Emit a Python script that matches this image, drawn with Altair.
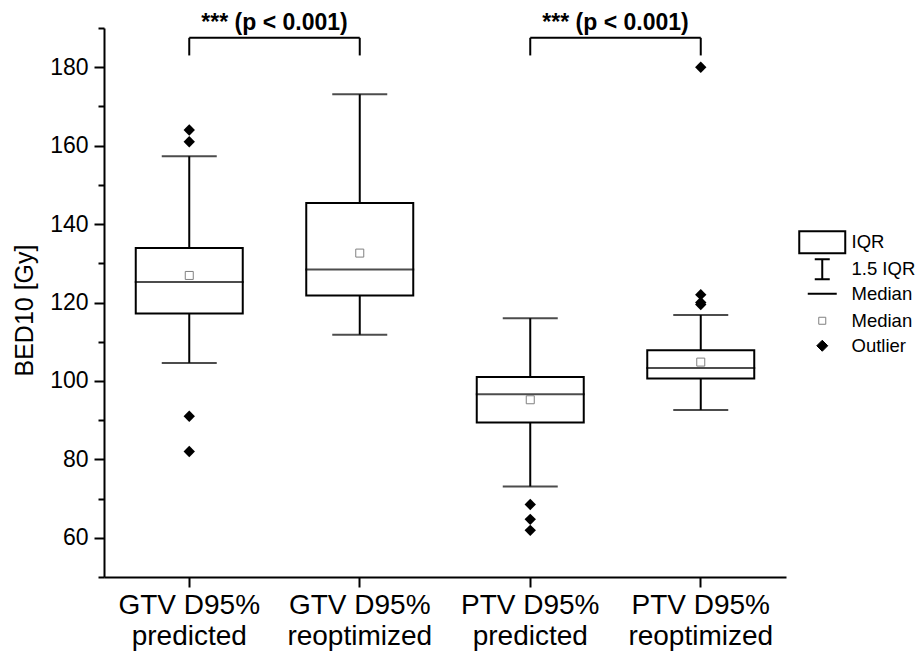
import altair as alt
import pandas as pd

FONT = "Liberation Sans"

categories = ["GTV D95% predicted", "GTV D95% reoptimized",
              "PTV D95% predicted", "PTV D95% reoptimized"]
whisker_low = [104.6, 111.8, 73.1, 92.6]
q1 = [117.2, 121.8, 89.4, 100.6]
median = [125.2, 128.4, 96.6, 103.3]
q3 = [133.9, 145.4, 101.0, 107.8]
whisker_high = [157.3, 173.1, 116.0, 116.8]
mean = [126.9, 132.6, 95.2, 104.8]

outliers = {
    "GTV D95% predicted": [164.0, 161.0, 91.0, 82.0],
    "GTV D95% reoptimized": [],
    "PTV D95% predicted": [68.5, 64.7, 61.9],
    "PTV D95% reoptimized": [180.0, 122.0, 120.0, 119.5],
}

# significance brackets: (left category, right category, label)
brackets = [
    ("GTV D95% predicted", "GTV D95% reoptimized", "*** (p < 0.001)"),
    ("PTV D95% predicted", "PTV D95% reoptimized", "*** (p < 0.001)"),
]
bracket_top = 187.5
bracket_leg = 183.0
label_y = 189.4

major_ticks = [60, 80, 100, 120, 140, 160, 180]
minor_ticks = [50, 70, 90, 110, 130, 150, 170, 190]

legend_labels = ["IQR", "1.5 IQR", "Median", "Median", "Outlier"]
legend_paths = [
    "M-4.6,-2.2H4.6V2.2H-4.6Z",
    "M-1.5,-2.0H1.5M0,-2.0V2.0M-1.5,2.0H1.5",
    "M-2.9,0H2.9",
    "M-0.7,-0.7H0.7V0.7H-0.7Z",
    "M0,-1.1L1.1,0L0,1.1L-1.1,0Z",
]
legend_fill = ["transparent", "transparent", "transparent", "white", "black"]
legend_stroke = ["black", "black", "black", "#808080", "black"]
legend_stroke_width = [2, 2, 2, 1, 1]
legend_rows_y = [205, 232, 256.5, 283.5, 308.5]

summary = pd.DataFrame({
    "cat": categories, "lo": whisker_low, "q1": q1, "med": median,
    "q3": q3, "hi": whisker_high, "mean": mean,
})
out_df = pd.DataFrame([(c, v) for c, vals in outliers.items() for v in vals],
                      columns=["cat", "val"])
br_df = pd.DataFrame([{"c1": a, "c2": b, "label": t, "top": bracket_top,
                       "leg": bracket_leg, "ly": label_y} for a, b, t in brackets])
legs_df = pd.DataFrame([{"cat": c, "top": bracket_top, "leg": bracket_leg}
                        for a, b, _ in brackets for c in (a, b)])

xscale = alt.Scale(domain=categories, paddingInner=0, paddingOuter=0)
yscale = alt.Scale(domain=[50, 190], nice=False, zero=False)

x_axis = alt.Axis(
    title=None, labelAngle=0, labelFontSize=28, labelLineHeight=31,
    labelExpr="[slice(datum.label, 0, 8), slice(datum.label, 9)]",
    tickSize=10, tickWidth=2, domainWidth=2, labelPadding=4,
    labelColor="black", tickColor="black", domainColor="black", labelFont=FONT,
)
y_axis = alt.Axis(
    title="BED10 [Gy]", values=major_ticks, orient="left", labelOverlap=False,
    tickSize=10, tickWidth=2, domainWidth=2, grid=False, labelFontSize=23,
    labelPadding=6, titleFontSize=25, titleFontWeight="normal", titlePadding=12,
    titleY=282, titleFont=FONT, labelFont=FONT, labelColor="black",
    tickColor="black", domainColor="black", titleColor="black",
)
y_minor_axis = alt.Axis(
    title=None, values=minor_ticks, orient="left", labels=False, domain=False,
    tickSize=6, tickWidth=2, tickColor="black", grid=False,
)

X = alt.X("cat:N", scale=xscale, axis=x_axis, sort=categories)
Xn = alt.X("cat:N", scale=xscale, sort=categories)


def Yq(field):
    return alt.Y(field, scale=yscale, axis=None)


base = alt.Chart(summary)

whisk = base.mark_rule(color="black", strokeWidth=2).encode(
    x=X, y=alt.Y("lo:Q", scale=yscale, axis=y_axis), y2="hi:Q")
cap_lo = base.mark_tick(color="black", size=55, thickness=2).encode(
    x=Xn, y=alt.Y("lo:Q", scale=yscale, axis=y_minor_axis))
cap_hi = base.mark_tick(color="black", size=55, thickness=2).encode(x=Xn, y=Yq("hi:Q"))
box = base.mark_bar(size=107, fill="white", stroke="black", strokeWidth=2).encode(
    x=Xn, y=Yq("q1:Q"), y2="q3:Q")
med = base.mark_tick(color="black", size=109, thickness=2).encode(x=Xn, y=Yq("med:Q"))
mn = base.mark_point(shape="square", size=64, filled=False, color="#808080",
                     strokeWidth=1, opacity=1).encode(x=Xn, y=Yq("mean:Q"))
outl = alt.Chart(out_df).mark_point(shape="diamond", size=130, filled=True,
                                    color="black", opacity=1).encode(x=Xn, y=Yq("val:Q"))

br_h = alt.Chart(br_df).mark_rule(color="black", strokeWidth=2).encode(
    x=alt.X("c1:N", scale=xscale, sort=categories), x2="c2:N", y=Yq("top:Q"))
br_v = alt.Chart(legs_df).mark_rule(color="black", strokeWidth=2).encode(
    x=Xn, y=Yq("leg:Q"), y2="top:Q")
br_t = alt.Chart(br_df).mark_text(font=FONT, fontSize=23, fontWeight="bold",
                                  baseline="alphabetic", align="center",
                                  color="black").encode(
    x=alt.X("c1:N", scale=xscale, sort=categories, bandPosition=1),
    y=Yq("ly:Q"), text="label:N")

# one single-entry legend per legend row (hidden, clipped points carry the scales)
legend_layers = []
for i, lab in enumerate(legend_labels):
    lg = alt.Legend(title=None, orient="none", legendX=709, legendY=legend_rows_y[i],
                    labelFontSize=18.5, labelOffset=20, symbolSize=100,
                    symbolStrokeWidth=legend_stroke_width[i], padding=0,
                    labelFont=FONT, labelColor="black", labelLimit=300)
    df = pd.DataFrame({"key": [lab], "cat": [categories[0]], "y": [0.0]})
    legend_layers.append(
        alt.Chart(df).mark_point(clip=True, filled=True, opacity=1).encode(
            x=Xn, y=Yq("y:Q"),
            shape=alt.Shape("key:N", scale=alt.Scale(domain=[lab], range=[legend_paths[i]]),
                            legend=lg),
            fill=alt.Fill("key:N", scale=alt.Scale(domain=[lab], range=[legend_fill[i]]),
                          legend=lg),
            stroke=alt.Stroke("key:N", scale=alt.Scale(domain=[lab], range=[legend_stroke[i]]),
                              legend=lg),
        )
    )

chart = alt.layer(whisk, cap_lo, cap_hi, box, med, mn, outl, br_h, br_v, br_t,
                  *legend_layers).resolve_axis(y="independent").resolve_scale(
    shape="independent", fill="independent", stroke="independent").properties(
    width=682, height=549,
    autosize=alt.AutoSizeParams(type="none"),
    padding={"left": 96, "top": 20, "right": 130, "bottom": 74},
).configure(font=FONT).configure_view(stroke=None)

chart.save("out.html", embed_options={"renderer": "svg", "actions": False})
